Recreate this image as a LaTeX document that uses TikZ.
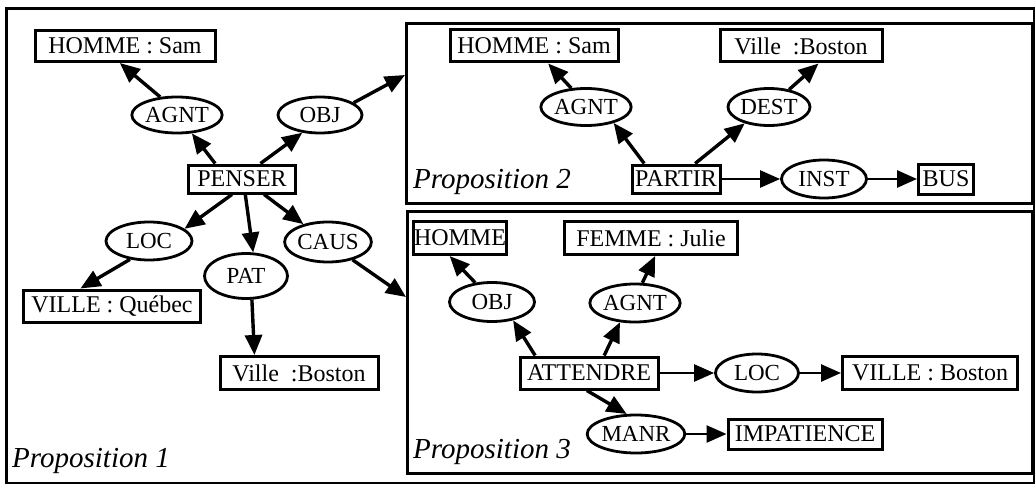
\documentclass[tikz,border=0pt]{standalone}
\usepackage{fontspec}
\setmainfont{Liberation Serif}
\usetikzlibrary{arrows.meta,shapes.geometric}
\begin{document}
\begin{tikzpicture}[x=1pt,y=-1pt,
  sz/.style 2 args={minimum width=#1pt,minimum height=#2pt},
  box/.style={draw,line width=3pt,rectangle,inner sep=0pt,font=\fontsize{24}{24}\selectfont},
  rel/.style={draw,line width=2.8pt,ellipse,inner sep=0pt,font=\fontsize{23}{23}\selectfont},
  arr/.style={line width=3.4pt,-{Triangle[length=20pt,width=17pt]}},
  harr/.style={line width=2.6pt,-{Triangle[length=20pt,width=17pt]}},
  frame/.style={draw,line width=3pt,rectangle,inner sep=0pt,anchor=north west},
  prop/.style={anchor=base west,inner sep=0pt,font=\fontsize{29}{29}\selectfont\itshape}]
\useasboundingbox (0,0) rectangle (1035,484);
% frames
\node[frame,sz={1028}{475}] (outer) at (5,7) {};
\node[frame,sz={626}{180}] (p2) at (405,22) {};
\node[frame,sz={625}{262}] (p3) at (406,210) {};
\coordinate (p2in) at (405,75);
\coordinate (p3in) at (406,297);
% Proposition 1
\node[box,sz={180}{31}] (homme1) at (125,46) {HOMME : Sam};
\node[rel,sz={85}{36}] (agnt1) at (177,115) {AGNT};
\node[rel,sz={84}{36}] (obj1) at (320,115) {OBJ};
\node[box,sz={107}{28}] (penser) at (242,179) {PENSER};
\node[rel,sz={86}{38}] (loc1) at (149,241) {LOC};
\node[rel,sz={83}{45}] (pat) at (246,276) {PAT};
\node[rel,sz={83}{40}] (caus) at (328,242) {CAUS};
\node[box,sz={177}{32}] (quebec) at (112,306) {VILLE : Québec};
\node[box,sz={158}{33}] (boston1) at (299,373) {Ville \ :Boston};
\node[prop] (lab1) at (12,467) {Proposition 1};
\draw[arr] (penser.150) -- (agnt1.-51);
\draw[arr] (agnt1.133) -- (homme1.-107);
\draw[arr] (penser.40) -- (obj1.-135);
\draw[arr] (obj1.20) -- (p2in);
\draw[arr] (penser.-123) -- (loc1.19);
\draw[arr] (penser.-78) -- (pat.73);
\draw[arr] (penser.-35) -- (caus.144);
\draw[arr] (caus.-36) -- (p3in);
\draw[arr] (loc1.-136) -- (quebec.151);
\draw[arr] (pat.-76) -- (boston1.158);
% Proposition 2
\node[box,sz={168}{32}] (homme2) at (534,46) {HOMME : Sam};
\node[box,sz={162}{32}] (boston2) at (801,46) {Ville \ :Boston};
\node[rel,sz={80}{37}] (agnt2) at (586,107) {AGNT};
\node[rel,sz={82}{37}] (dest) at (769,107) {DEST};
\node[box,sz={88}{28}] (partir) at (676,179) {PARTIR};
\node[rel,sz={85}{38}] (inst) at (824,179) {INST};
\node[box,sz={55}{30}] (bus) at (946,179) {BUS};
\node[prop] (lab2) at (413,188) {Proposition 2};
\draw[arr] (partir.154) -- (agnt2.-30);
\draw[arr] (agnt2.128) -- (homme2.-51);
\draw[arr] (partir.39) -- (dest.-146);
\draw[arr] (dest.41) -- (boston2.-45);
\draw[harr] (partir.east) -- (inst.west);
\draw[harr] (inst.east) -- (bus.west);
% Proposition 3
\node[box,sz={93}{33}] (homme3) at (460,238) {HOMME};
\node[box,sz={173}{33}] (femme) at (651,238) {FEMME : Julie};
\node[rel,sz={85}{39}] (obj3) at (492,302) {OBJ};
\node[rel,sz={84}{38}] (agnt3) at (635,303) {AGNT};
\node[box,sz={138}{32}] (attendre) at (589,373) {ATTENDRE};
\node[rel,sz={83}{38}] (loc3) at (757,373) {LOC};
\node[box,sz={175}{33}] (boston3) at (930,373) {VILLE : Boston};
\node[rel,sz={82}{38}] (manr) at (636,434) {MANR};
\node[box,sz={154}{30}] (impat) at (805,434) {IMPATIENCE};
\node[prop] (lab3) at (413,458) {Proposition 3};
\draw[arr] (attendre.162) -- (obj3.-41);
\draw[arr] (obj3.131) -- (homme3.-120);
\draw[arr] (attendre.49) -- (agnt3.-128);
\draw[arr] (agnt3.70) -- (femme.-77);
\draw[harr] (attendre.east) -- (loc3.west);
\draw[harr] (loc3.east) -- (boston3.west);
\draw[arr] (attendre.-97) -- (manr.115);
\draw[harr] (manr.east) -- (impat.west);
\end{tikzpicture}
\end{document}
